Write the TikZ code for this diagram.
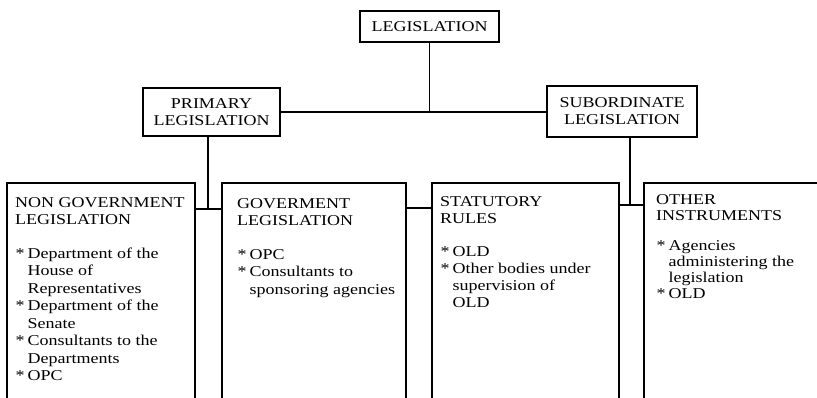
\documentclass[tikz,border=0pt]{standalone}
\usepackage{fontspec}
\setmainfont{Liberation Serif}[FakeStretch=1.2]
\newcommand{\bul}{\makebox[12.5pt][l]{\hspace{0.5pt}*}}
\newcommand{\cnt}{\hspace*{12.5pt}}
\begin{document}
\begin{tikzpicture}[x=1pt,y=-1pt,
  box/.style={draw,line width=1.1pt,inner sep=0pt,outer sep=0pt},
  lab/.style={font=\fontsize{15}{17}\selectfont,align=center},
  body/.style={align=left,inner sep=0pt,anchor=north west},
  conn/.style={line width=1.1pt}]
\useasboundingbox (0,0) rectangle (817,398);
\clip (0,0) rectangle (817,398);
% top level
\node[box,lab,minimum width=139pt,minimum height=31pt] (leg) at (429.5,26.5) {LEGISLATION};
\node[box,lab,minimum width=137pt,minimum height=48pt] (prim) at (211.5,112) {PRIMARY\\LEGISLATION};
\node[box,lab,minimum width=150pt,minimum height=51pt] (sub) at (622,111.5) {SUBORDINATE\\LEGISLATION};
% bottom boxes
\node[box,minimum width=188pt,minimum height=247pt] (ngov) at (101,306.5) {};
\node[box,minimum width=184pt,minimum height=247pt] (gov) at (314,306.5) {};
\node[box,minimum width=187pt,minimum height=247pt] (stat) at (525.5,306.5) {};
\node[box,minimum width=196pt,minimum height=247pt] (oth) at (742,306.5) {};
% texts
\node[body,font=\fontsize{15}{17.5}\selectfont] (ngovt) at (15,197) {NON GOVERNMENT\\LEGISLATION\\[16pt]
\bul Department of the\\ \cnt House of\\ \cnt Representatives\\
\bul Department of the\\ \cnt Senate\\
\bul Consultants to the\\ \cnt Departments\\
\bul OPC};
\node[body,font=\fontsize{15}{17.5}\selectfont] (govt) at (237,198) {GOVERMENT\\LEGISLATION\\[16pt]
\bul OPC\\ \bul Consultants to\\ \cnt sponsoring agencies};
\node[body,font=\fontsize{15}{17}\selectfont] (statt) at (440,196) {STATUTORY\\RULES\\[16pt]
\bul OLD\\ \bul Other bodies under\\ \cnt supervision of\\ \cnt OLD};
\node[body,font=\fontsize{15}{16}\selectfont] (otht) at (656,194) {OTHER\\INSTRUMENTS\\[14pt]
\bul Agencies\\ \cnt administering the\\ \cnt legislation\\ \bul OLD};
% junction coordinates
\coordinate (jl) at (208,209);
\coordinate (jm) at (0,208);
\coordinate (js) at (630,205);
% connectors
\draw[conn] (prim.east) -- (prim.east -| sub.west);
\draw[conn] (leg.south) -- (leg.south |- prim.east);
\draw[conn] (jl |- prim.south) -- (jl);
\draw[conn] (ngov.east |- jl) -- (gov.west |- jl);
\draw[conn] (gov.east |- jm) -- (stat.west |- jm);
\draw[conn] (js |- sub.south) -- (js);
\draw[conn] (stat.east |- js) -- (oth.west |- js);
\end{tikzpicture}
\end{document}
